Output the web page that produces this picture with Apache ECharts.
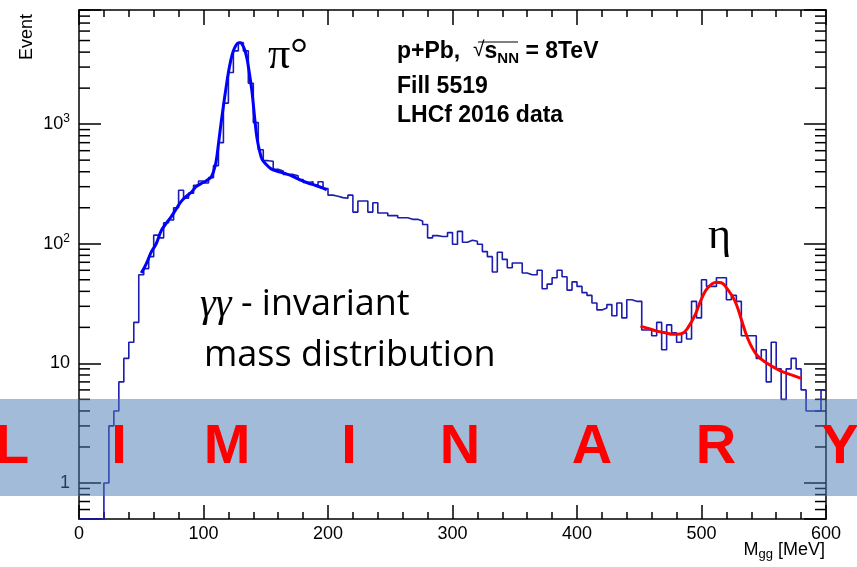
<!DOCTYPE html>
<html>
<head>
<meta charset="utf-8">
<script src="https://cdn.jsdelivr.net/npm/echarts@6/dist/echarts.min.js"></script>
<style>
  html, body { margin: 0; padding: 0; background: #fff; }
  #J_Chart { width: 857px; height: 567px; }
</style>
</head>
<body>
<div id="J_Chart"></div>
<script>
// gamma-gamma invariant mass histogram, 4 MeV bins from 0 to 600
const binLow = 0;
const binWidth = 4;
const counts = [
  0, 0, 0, 0, 0, 1, 3, 4, 7, 11,
  15, 22, 55, 62, 78, 118, 112, 150, 158, 200,
  280, 240, 265, 308, 335, 322, 357, 450, 700, 1500,
  2700, 4100, 4800, 4100, 2200, 1030, 610, 495, 490, 420,
  405, 380, 380, 370, 345, 325, 330, 310, 330, 290,
  255, 250, 243, 240, 255, 184, 228, 228, 184, 220,
  181, 181, 172, 172, 165, 165, 160, 160, 155, 145,
  112, 117, 115, 115, 124, 99, 127, 103, 107, 105,
  99, 86, 78, 58, 85, 74, 63, 69, 69, 57,
  55, 55, 60, 42, 46, 52, 60, 53, 41, 48,
  44, 39, 37, 32, 28, 29, 31, 25, 32, 24,
  34, 33, 33, 19, 19, 17, 22, 13, 21, 18,
  15, 18, 16, 33, 24, 50, 44, 44, 52, 52,
  34, 37, 33, 17, 17, 17, 11, 13, 7, 15,
  9, 5, 9, 11, 9, 6, 4, 4, 4, 6,
];

// pi0 fit (blue)
const pi0FitMass = [50, 54, 58, 62, 66, 70, 74, 78, 82, 86, 90, 94, 98, 102, 106, 108, 110, 112, 114, 116, 118, 120, 122, 124, 126, 128, 129.5, 131, 133, 135, 137, 139, 141, 143, 145, 147, 150, 154, 160, 166, 172, 178, 184, 190, 196, 199];
const pi0FitValue = [57, 68, 85, 100, 128, 148, 168, 195, 225, 248, 268, 300, 318, 335, 360, 400, 480, 680, 1000, 1420, 1980, 2700, 3450, 4100, 4550, 4780, 4800, 4650, 4200, 3500, 2600, 1850, 1150, 760, 600, 510, 465, 425, 402, 385, 365, 340, 322, 307, 292, 282];

// eta fit (red)
const etaFitMass = [451, 458, 464, 471, 477, 484, 489, 495, 500, 505, 512, 516, 521, 527, 532, 537, 544, 552, 563, 571, 580];
const etaFitValue = [20.5, 19.5, 18.6, 18, 17.5, 17.7, 19.8, 25.6, 34.6, 42.9, 47.7, 47.2, 41.5, 33, 23.3, 16.3, 11.9, 10.1, 8.7, 8.1, 7.5];

// minor ticks on the log axis
const yMinorTicks = [0.6, 0.7, 0.8, 0.9, 2, 3, 4, 5, 6, 7, 8, 9, 20, 30, 40, 50, 60, 70, 80, 90,
  200, 300, 400, 500, 600, 700, 800, 900, 2000, 3000, 4000, 5000, 6000, 7000, 8000, 9000];

const xMin = 0, xMax = 600;
const yMin = 0.5, yMax = 9000;

const bannerLetters = ['L', 'I', 'M', 'I', 'N', 'A', 'R', 'Y'];
const bannerX = [12, 119, 227, 349, 460, 592, 716, 840];

const histData = counts.map((c, i) => [binLow + i * binWidth, Math.max(c, yMin)]);
histData.push([binLow + counts.length * binWidth, Math.max(counts[counts.length - 1], yMin)]);

const AXIS_FONT = 'Liberation Sans';
const LINE = '#000';

function logLabel(v) {
  const lg = Math.log10(v);
  const e = Math.round(lg);
  if (Math.abs(lg - e) > 1e-6) return '';
  if (e === 0) return '1';
  if (e === 1) return '10';
  return '10{sup|' + e + '}';
}

const chart = echarts.init(document.getElementById('J_Chart'), null, { renderer: 'canvas' });

const xAxisBase = {
  type: 'value',
  min: xMin,
  max: xMax,
  interval: 100,
  axisLine: { show: true, onZero: false, lineStyle: { color: LINE, width: 1.5 } },
  axisTick: { show: true, inside: true, length: 14, lineStyle: { color: LINE, width: 1.5 } },
  minorTick: { show: true, splitNumber: 5, length: 7, lineStyle: { color: LINE, width: 1.5 } },
  splitLine: { show: false },
  minorSplitLine: { show: false },
};

const yAxisBase = {
  type: 'log',
  logBase: 10,
  min: yMin,
  max: yMax,
  axisLine: { show: true, onZero: false, lineStyle: { color: LINE, width: 1.5 } },
  axisTick: { show: true, inside: true, length: 22, lineStyle: { color: LINE, width: 1.5 } },
  splitLine: { show: false },
};

const option = {
  animation: false,
  backgroundColor: '#fff',
  grid: { left: 79, right: 31, top: 10, bottom: 48 },
  xAxis: [
    Object.assign({}, xAxisBase, {
      position: 'bottom',
      axisLabel: {
        show: true, margin: 6, color: '#000', fontFamily: AXIS_FONT, fontSize: 18,
        showMinLabel: true, showMaxLabel: true,
      },
    }),
    Object.assign({}, xAxisBase, {
      position: 'top',
      axisTick: { show: true, inside: true, length: 15, lineStyle: { color: LINE, width: 1.5 } },
      axisLabel: { show: false },
    }),
  ],
  yAxis: [
    Object.assign({}, yAxisBase, {
      position: 'left',
      axisLabel: {
        show: true, margin: 9, color: '#000', fontFamily: AXIS_FONT, fontSize: 18,
        formatter: logLabel,
        rich: {
          sup: { fontFamily: AXIS_FONT, fontSize: 12, color: '#000', verticalAlign: 'top', padding: [0, 0, 10, 0] },
        },
      },
    }),
    Object.assign({}, yAxisBase, {
      position: 'right',
      axisLabel: { show: false },
    }),
  ],
  series: [
    {
      name: 'minor ticks',
      type: 'custom',
      xAxisIndex: 0,
      yAxisIndex: 0,
      clip: false,
      silent: true,
      data: yMinorTicks.map((v) => [xMin, v]),
      renderItem: function (params, api) {
        const l = api.coord([xMin, api.value(1)]);
        const r = api.coord([xMax, api.value(1)]);
        const st = { stroke: LINE, lineWidth: 1.5 };
        return {
          type: 'group',
          children: [
            { type: 'line', shape: { x1: l[0], y1: l[1], x2: l[0] + 11, y2: l[1] }, style: st },
            { type: 'line', shape: { x1: r[0], y1: r[1], x2: r[0] - 11, y2: r[1] }, style: st },
          ],
        };
      },
    },
    {
      name: 'data',
      type: 'line',
      step: 'end',
      data: histData,
      showSymbol: false,
      clip: false,
      lineStyle: { color: '#1c1cae', width: 1.6 },
      z: 3,
    },
    {
      name: 'pi0 fit',
      type: 'line',
      smooth: 0.4,
      data: pi0FitMass.map((m, i) => [m, pi0FitValue[i]]),
      showSymbol: false,
      lineStyle: { color: '#0000ff', width: 3 },
      z: 4,
    },
    {
      name: 'eta fit',
      type: 'line',
      smooth: 0.4,
      data: etaFitMass.map((m, i) => [m, etaFitValue[i]]),
      showSymbol: false,
      lineStyle: { color: '#ff0000', width: 3 },
      z: 4,
    },
  ],
  graphic: [
    {
      type: 'text', x: 27, y: 37, rotation: Math.PI / 2, z: 50,
      style: { text: 'Event', font: '18px "Liberation Sans"', fill: '#000', textAlign: 'center', textVerticalAlign: 'middle' },
    },
    {
      type: 'text', x: 825, y: 551, z: 50,
      style: {
        text: '{t|M}{s|gg}{t| [MeV]}', fill: '#000', textAlign: 'right', textVerticalAlign: 'middle',
        rich: {
          t: { fontFamily: AXIS_FONT, fontSize: 18, lineHeight: 20, verticalAlign: 'top' },
          s: { fontFamily: AXIS_FONT, fontSize: 13, lineHeight: 20, verticalAlign: 'bottom', padding: [8, 0, 0, 0] },
        },
      },
    },
    {
      type: 'text', x: 268, y: 56, z: 50,
      style: { text: 'π°', font: '44px "Liberation Serif"', fill: '#000', textVerticalAlign: 'middle' },
    },
    {
      type: 'text', x: 708, y: 236, z: 50,
      style: { text: 'η', font: '44px "Liberation Serif"', fill: '#000', textVerticalAlign: 'middle' },
    },
    {
      type: 'text', x: 397, y: 53, z: 50,
      style: {
        text: '{b|p+Pb,  }{r|√}{b|s}{n|NN}{b| = 8TeV}', textVerticalAlign: 'middle', fill: '#000',
        rich: {
          b: { fontFamily: AXIS_FONT, fontWeight: 'bold', fontSize: 23, lineHeight: 26, verticalAlign: 'top' },
          r: { fontFamily: AXIS_FONT, fontWeight: 'normal', fontSize: 21, lineHeight: 26, verticalAlign: 'top' },
          n: { fontFamily: AXIS_FONT, fontWeight: 'bold', fontSize: 15, lineHeight: 26, verticalAlign: 'bottom' },
        },
      },
    },
    {
      type: 'line', z: 50,
      shape: { x1: 478, y1: 42, x2: 518, y2: 42 },
      style: { stroke: '#000', lineWidth: 1 },
    },
    {
      type: 'text', x: 397, y: 87, z: 50,
      style: { text: 'Fill 5519', font: 'bold 23px "Liberation Sans"', fill: '#000', textVerticalAlign: 'middle' },
    },
    {
      type: 'text', x: 397, y: 116, z: 50,
      style: { text: 'LHCf 2016 data', font: 'bold 23px "Liberation Sans"', fill: '#000', textVerticalAlign: 'middle' },
    },
    {
      type: 'text', x: 200, y: 305, z: 50,
      style: {
        text: '{g|γγ}{t| - invariant}', textVerticalAlign: 'middle', fill: '#000',
        rich: {
          g: { fontFamily: 'Liberation Serif', fontStyle: 'italic', fontSize: 40, lineHeight: 44 },
          t: { fontFamily: 'Open Sans', fontSize: 36, lineHeight: 44 },
        },
      },
    },
    {
      type: 'text', x: 204, y: 356, z: 50,
      style: { text: 'mass distribution', font: '36px "Open Sans"', fill: '#000', textVerticalAlign: 'middle' },
    },
    {
      type: 'rect', z: 100,
      shape: { x: 0, y: 399, width: 857, height: 97 },
      style: { fill: 'rgba(70,120,180,0.5)' },
    },
  ].concat(bannerLetters.map((ch, i) => ({
    type: 'text', x: bannerX[i], y: 448, z: 101,
    style: { text: ch, font: 'bold 56px "Liberation Sans"', fill: '#ff0000', textAlign: 'center', textVerticalAlign: 'middle' },
  }))),
};

chart.setOption(option);
</script>
</body>
</html>
